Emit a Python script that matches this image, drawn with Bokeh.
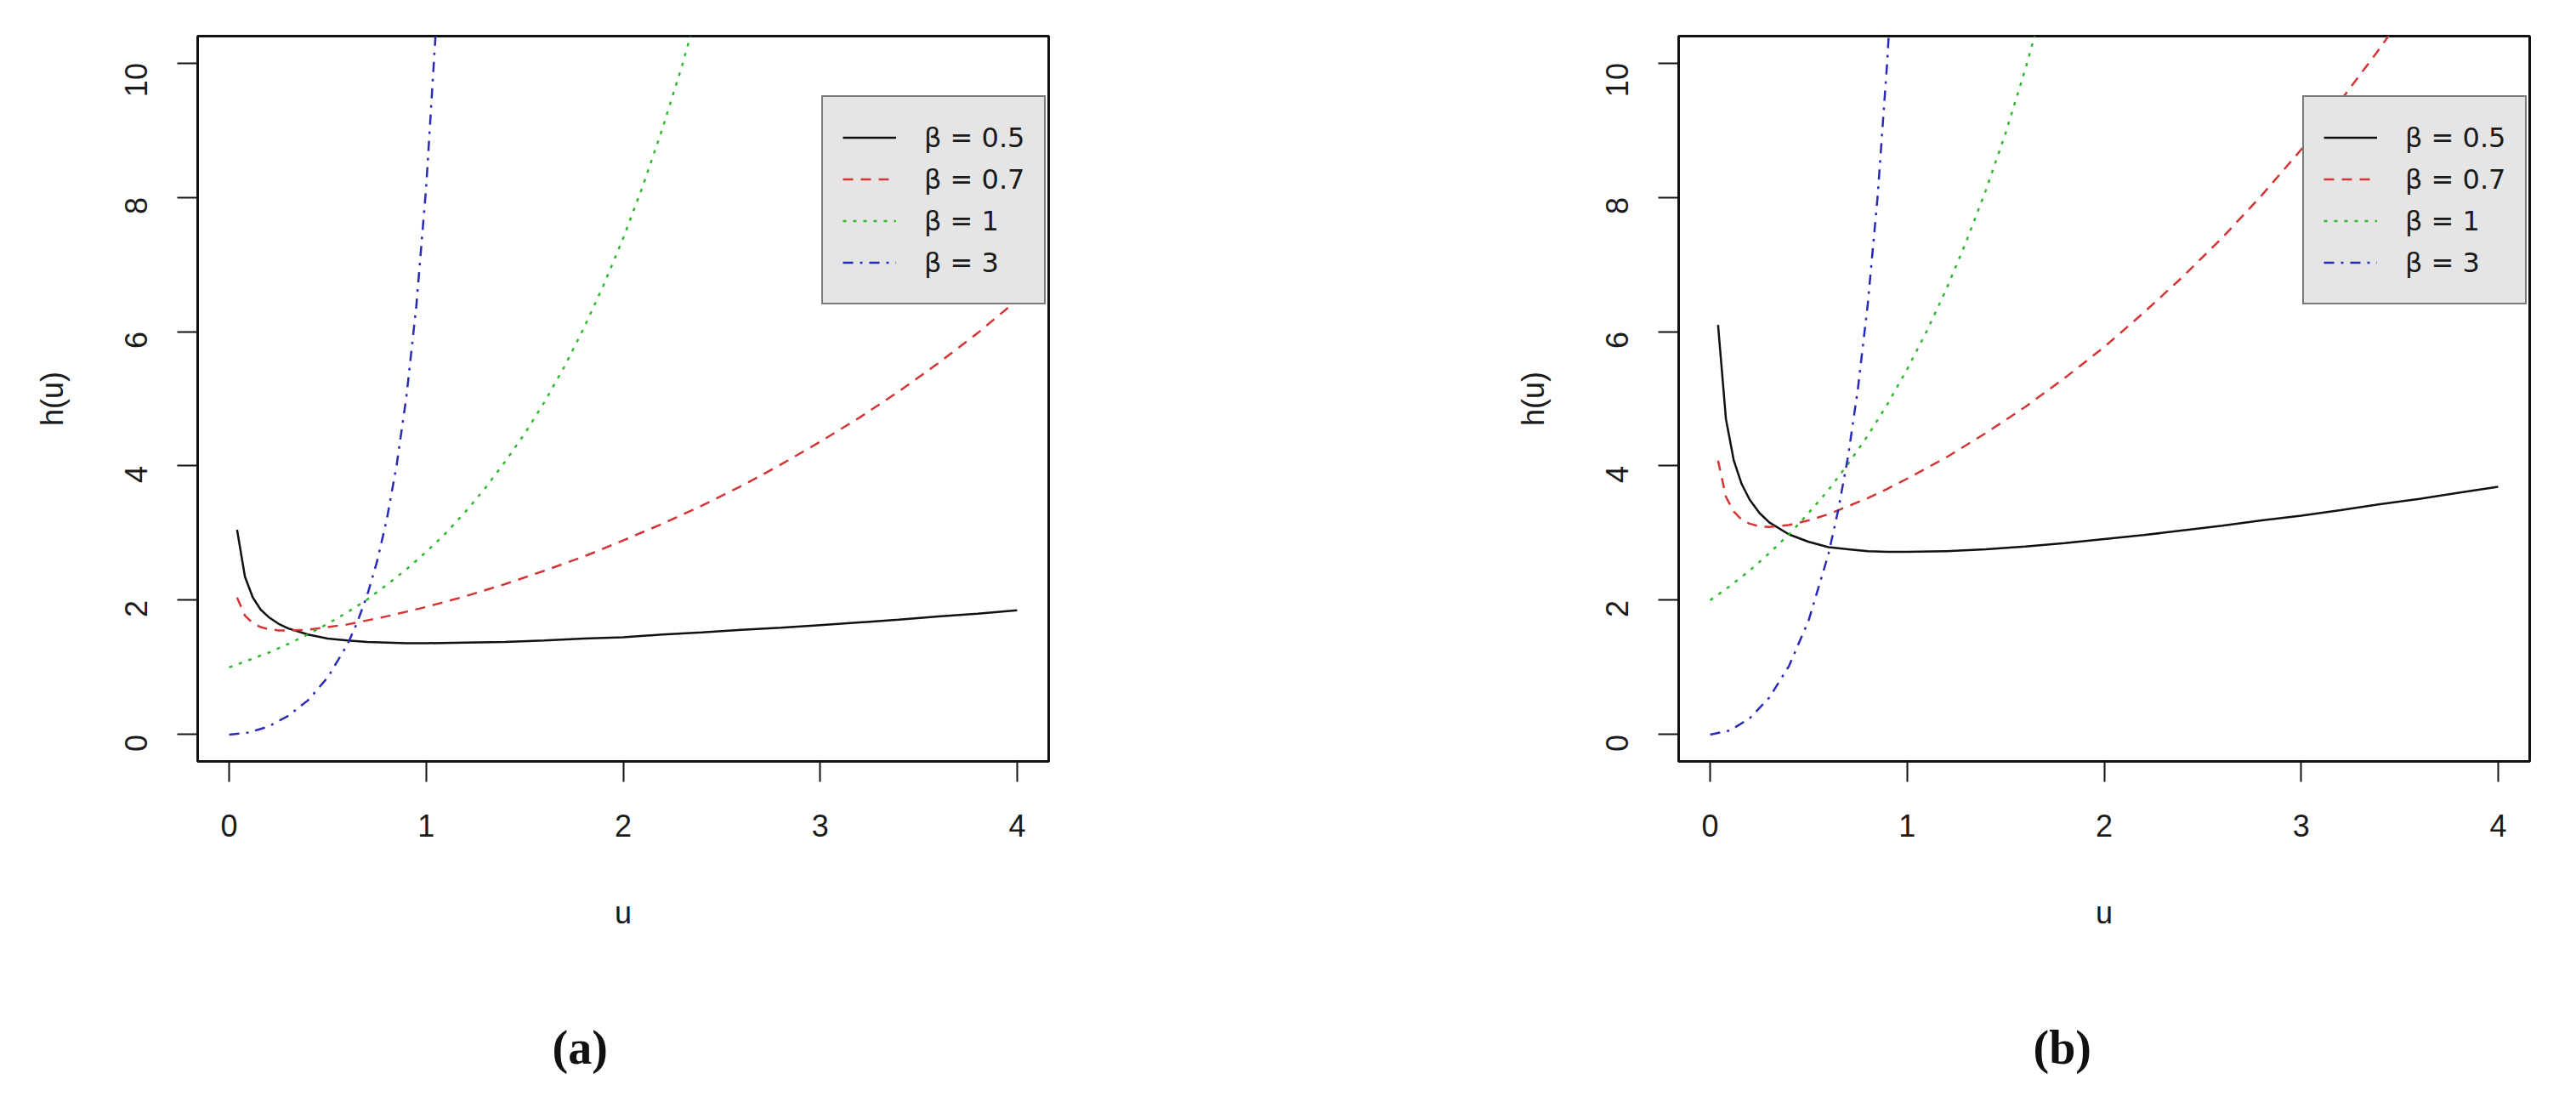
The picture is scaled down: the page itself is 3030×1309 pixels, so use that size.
import math
from bokeh.plotting import figure
from bokeh.models import FixedTicker, Legend, LegendItem, Range1d, Title
from bokeh.layouts import row
from bokeh.embed import file_html
from bokeh.resources import INLINE

# ---------------- data ----------------
U_SLOW = [0.04, 0.08, 0.12, 0.16, 0.2, 0.25, 0.3, 0.4, 0.5, 0.6, 0.7, 0.8, 0.9, 1.0,
          1.2, 1.4, 1.6, 1.8, 2.0, 2.2, 2.4, 2.6, 2.8, 3.0, 3.2, 3.4, 3.6, 3.8, 4.0]

A_B05 = [3.05, 2.35, 2.04, 1.86, 1.75, 1.65, 1.58, 1.49, 1.43, 1.40, 1.38, 1.37, 1.36, 1.36,
         1.37, 1.38, 1.40, 1.43, 1.45, 1.49, 1.52, 1.56, 1.59, 1.63, 1.67, 1.71, 1.76, 1.80, 1.85]
A_B07 = [2.04, 1.77, 1.66, 1.60, 1.57, 1.55, 1.55, 1.56, 1.60, 1.64, 1.70, 1.76, 1.83, 1.90,
         2.06, 2.24, 2.44, 2.65, 2.89, 3.14, 3.41, 3.70, 4.02, 4.36, 4.72, 5.11, 5.53, 5.98, 6.47]
A_U1 = [0.0, 0.1, 0.2, 0.3, 0.4, 0.5, 0.6, 0.7, 0.8, 0.9, 1.0, 1.1, 1.2, 1.3, 1.4, 1.5,
        1.6, 1.7, 1.8, 1.9, 2.0, 2.1, 2.2, 2.3, 2.4]
A_B1 = [1.00, 1.11, 1.22, 1.35, 1.49, 1.65, 1.82, 2.01, 2.23, 2.46, 2.72, 3.00, 3.32, 3.67,
        4.06, 4.48, 4.95, 5.47, 6.05, 6.69, 7.39, 8.17, 9.03, 9.97, 11.02]
A_U3 = [0.0, 0.1, 0.2, 0.3, 0.4, 0.5, 0.6, 0.65, 0.7, 0.75, 0.8, 0.85, 0.9, 0.95, 1.0, 1.05, 1.1]
A_B3 = [0.00, 0.03, 0.12, 0.28, 0.51, 0.85, 1.34, 1.67, 2.07, 2.57, 3.20, 4.01, 5.04, 6.38,
        8.15, 10.53, 13.74]

B_B05 = [6.10, 4.70, 4.08, 3.73, 3.50, 3.30, 3.16, 2.98, 2.87, 2.79, 2.76, 2.73, 2.72, 2.72,
         2.73, 2.76, 2.80, 2.85, 2.91, 2.97, 3.04, 3.11, 3.19, 3.26, 3.34, 3.43, 3.51, 3.60, 3.69]
B_B07 = [4.08, 3.54, 3.32, 3.20, 3.14, 3.10, 3.09, 3.12, 3.19, 3.28, 3.40, 3.52, 3.66, 3.81,
         4.13, 4.49, 4.88, 5.31, 5.77, 6.28, 6.82, 7.40, 8.03, 8.71, 9.44, 10.22, 11.07, 11.97, 12.93]
B_U1 = [0.0, 0.1, 0.2, 0.3, 0.4, 0.5, 0.6, 0.7, 0.8, 0.9, 1.0, 1.1, 1.2, 1.3, 1.4, 1.5, 1.6, 1.7]
B_B1 = [2.00, 2.21, 2.44, 2.70, 2.98, 3.30, 3.64, 4.03, 4.45, 4.92, 5.44, 6.01, 6.64, 7.34,
        8.11, 8.96, 9.91, 10.95]
B_U3 = [0.0, 0.1, 0.2, 0.3, 0.4, 0.5, 0.6, 0.65, 0.7, 0.75, 0.8, 0.85, 0.9, 0.95]
B_B3 = [0.00, 0.06, 0.24, 0.55, 1.02, 1.70, 2.68, 3.34, 4.14, 5.15, 6.41, 8.01, 10.07, 12.76]

X_TICKS = [0, 1, 2, 3, 4]
Y_TICKS = [0, 2, 4, 6, 8, 10]
LABELS = ["β = 0.5", "β = 0.7", "β = 1", "β = 3"]
CAPTIONS = ["(a)", "(b)"]

COLORS = ["#111111", "#d43434", "#2db82d", "#2a2ab8"]
DASHES = ["solid", "12 9", "4 8", "12 8 3 8"]

TICK_FONT = "Liberation Sans"


def panel(series, caption, left_border, right_border):
    p = figure(frame_width=1001, frame_height=853,
               min_border_left=left_border, min_border_right=right_border,
               min_border_top=42, min_border_bottom=398,
               x_range=Range1d(-0.16, 4.16), y_range=Range1d(-0.4, 10.4),
               output_backend="svg", toolbar_location=None,
               background_fill_color="white", border_fill_color="white")
    p.outline_line_color = "#111111"
    p.outline_line_width = 3
    p.grid.visible = False

    for ax in (p.xaxis[0], p.yaxis[0]):
        ax.axis_line_color = None
        ax.major_tick_in = 0
        ax.major_tick_out = 24
        ax.major_tick_line_width = 2
        ax.major_tick_line_color = "#111111"
        ax.minor_tick_line_color = None
        ax.major_label_text_font = TICK_FONT
        ax.major_label_text_font_size = "36px"
        ax.major_label_text_color = "#1a1a1a"
        ax.axis_label_text_font = TICK_FONT
        ax.axis_label_text_font_size = "36px"
        ax.axis_label_text_font_style = "normal"
        ax.axis_label_text_color = "#1a1a1a"

    p.xaxis.ticker = FixedTicker(ticks=X_TICKS)
    p.yaxis.ticker = FixedTicker(ticks=Y_TICKS)
    p.xaxis.axis_label = "u"
    p.yaxis.axis_label = "h(u)"
    p.xaxis.major_label_standoff = 38
    p.xaxis.axis_label_standoff = 66
    p.yaxis.major_label_orientation = math.pi / 2
    p.yaxis.major_label_standoff = 48
    p.yaxis.axis_label_standoff = 50

    items = []
    for (xs, ys), lab, col, dash in zip(series, LABELS, COLORS, DASHES):
        r = p.line(xs, ys, line_color=col, line_width=2.5, line_dash=dash)
        items.append(LegendItem(label=lab, renderers=[r]))

    leg = Legend(items=items, location=(734, 537),
                 background_fill_color="#e5e5e5", background_fill_alpha=1.0,
                 border_line_color="#111111", border_line_width=2,
                 label_text_font="DejaVu Sans", label_text_font_size="32px",
                 label_text_color="#1a1a1a",
                 glyph_width=63, glyph_height=49, label_height=49,
                 label_standoff=33, spacing=0, padding=23, margin=0)
    p.add_layout(leg, "center")

    cap = Title(text=caption, align="left", offset=417, standoff=205,
                text_font="Liberation Serif", text_font_size="56px",
                text_font_style="bold", text_color="#111111")
    p.add_layout(cap, "below")
    return p


pa = panel([(U_SLOW, A_B05), (U_SLOW, A_B07), (A_U1, A_B1), (A_U3, A_B3)],
           CAPTIONS[0], 232, 275)
pb = panel([(U_SLOW, B_B05), (U_SLOW, B_B07), (B_U1, B_B1), (B_U3, B_B3)],
           CAPTIONS[1], 466, 39)

layout = row(pa, pb)
open("out.html", "w").write(file_html(layout, INLINE))
